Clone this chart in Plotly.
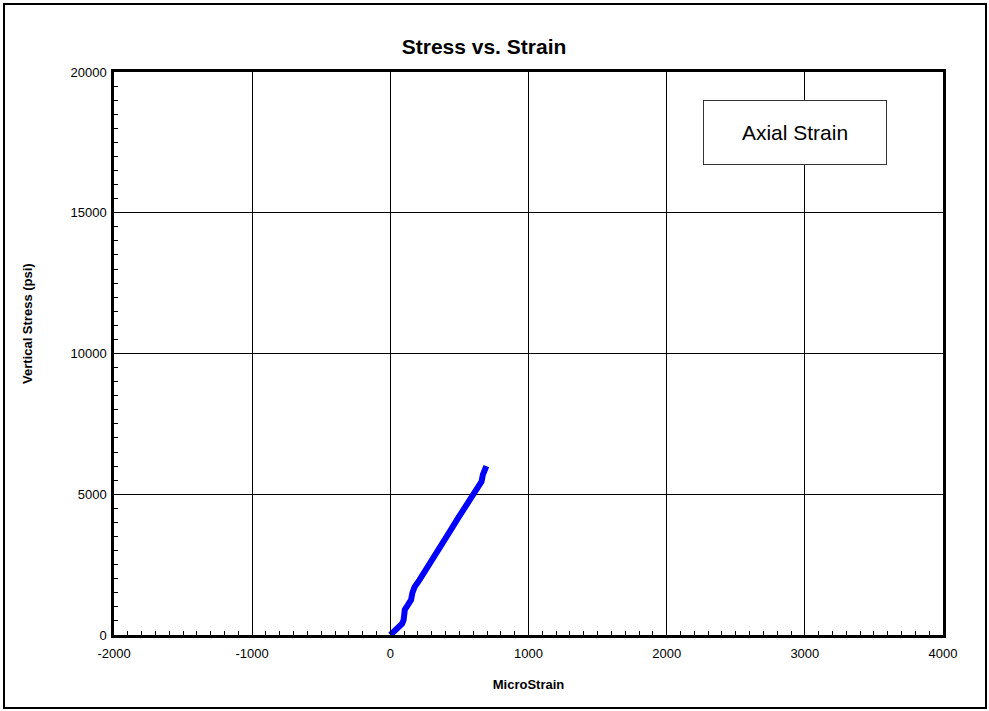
import plotly.graph_objects as go

# axial strain curve
micro_strain = [0, 30, 60, 85, 96, 100, 105, 125, 150, 160, 175, 210, 250, 300,
                340, 390, 440, 490, 540, 590, 630, 660, 670, 685, 695]
vertical_stress = [0, 120, 250, 400, 530, 700, 900, 1050, 1250, 1500, 1700, 1950,
                   2250, 2650, 3000, 3350, 3750, 4150, 4550, 4950, 5300, 5450,
                   5700, 5850, 6000]

x_ticks = [-2000, -1000, 0, 1000, 2000, 3000, 4000]
y_ticks = [0, 5000, 10000, 15000, 20000]

W, H = 989, 711
L, R, T, B = 114, 46, 72, 76
pw, ph = W - L - R, H - T - B
FONT = 'Arial, Liberation Sans'


def px_x(p):
    return (p - L) / pw


def px_y(p):
    return (H - B - p) / ph


fig = go.Figure()

fig.add_trace(go.Scatter(
    x=micro_strain,
    y=vertical_stress,
    mode='lines',
    name='Axial Strain',
    line=dict(color='#0000ff', width=6),
    showlegend=False,
))

axis_common = dict(
    showline=True, linecolor='black', linewidth=2.5, mirror=True,
    showgrid=True, gridcolor='black', gridwidth=1,
    zeroline=False,
    ticks='inside', ticklen=0,
    tickfont=dict(family=FONT, size=13, color='black'),
)

fig.update_xaxes(
    range=[-2000, 4000],
    tickvals=x_ticks, ticktext=[str(v) for v in x_ticks],
    ticklabelstandoff=5,
    minor=dict(dtick=100, ticks='inside', ticklen=4, tickcolor='black', showgrid=False),
    title=dict(text='<b>MicroStrain</b>', font=dict(family=FONT, size=13, color='black'), standoff=20),
    **axis_common,
)
fig.update_yaxes(
    range=[0, 20000],
    tickvals=y_ticks, ticktext=[str(v) for v in y_ticks],
    ticklabelstandoff=2,
    minor=dict(dtick=500, ticks='inside', ticklen=4, tickcolor='black', showgrid=False),
    title=dict(text=''),
    **axis_common,
)

fig.update_layout(
    width=W, height=H,
    margin=dict(l=L, r=R, t=T, b=B),
    paper_bgcolor='white', plot_bgcolor='white',
    font=dict(family=FONT, color='black'),
    title=dict(text='<b>Stress vs. Strain</b>', x=484 / W, xanchor='center',
               y=1 - 47 / H, yanchor='middle',
               font=dict(family=FONT, size=21, color='black')),
    shapes=[dict(type='rect', xref='paper', yref='paper',
                 x0=px_x(4), x1=px_x(986), y0=px_y(708), y1=px_y(4),
                 line=dict(color='black', width=2), layer='below')],
    annotations=[
        dict(text='<b>Vertical Stress (psi)</b>', xref='paper', yref='paper',
             x=px_x(27), y=px_y(324), xanchor='center', yanchor='middle',
             textangle=-90, showarrow=False,
             font=dict(family=FONT, size=13, color='black')),
        dict(text='Axial Strain', xref='paper', yref='paper',
             x=px_x(795), y=px_y(132), xanchor='center', yanchor='middle',
             showarrow=False,
             width=178, height=59, bgcolor='white',
             bordercolor='#333333', borderwidth=1, borderpad=2,
             font=dict(family=FONT, size=21, color='black')),
    ],
)

fig.write_html('out.html', config={'displayModeBar': False},
               post_script="document.body.style.margin='0';")
